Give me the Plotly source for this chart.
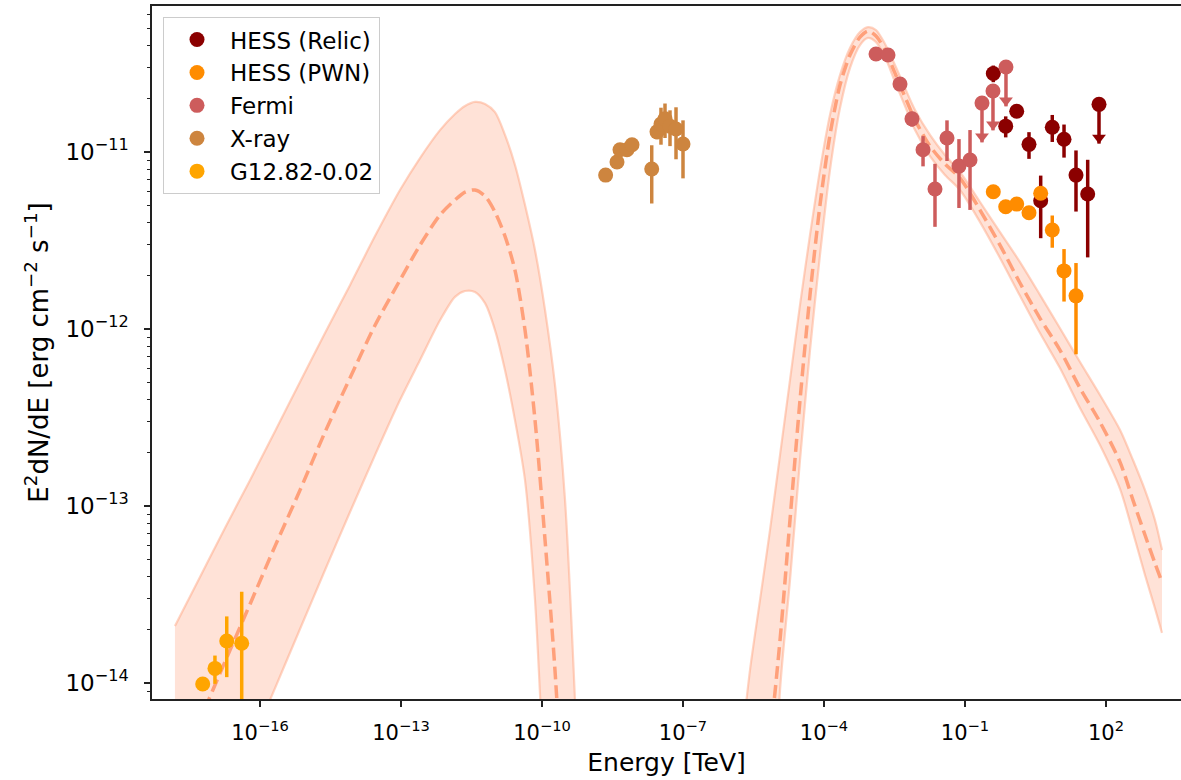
import plotly.graph_objects as go

# ---------------- data ----------------
# G12.82-0.02 (radio)
g12_E = [6.04e-18, 1.10e-17, 1.96e-17, 4.08e-17]
g12_F = [9.87e-15, 1.21e-14, 1.73e-14, 1.68e-14]
g12_err = [0.0, 0.22e-14, 0.65e-14, 1.6e-14]

# X-ray
xray_E = [2.26e-9, 3.94e-9, 4.57e-9, 6.43e-9, 8.22e-9, 2.16e-8, 2.80e-8,
          3.40e-8, 4.14e-8, 5.29e-8, 7.10e-8, 1.00e-7]
xray_F = [7.41e-12, 8.78e-12, 1.03e-11, 1.03e-11, 1.10e-11, 8.02e-12, 1.30e-11,
          1.44e-11, 1.54e-11, 1.40e-11, 1.35e-11, 1.11e-11]
xray_err = [0.3e-12, 0.3e-12, 0.3e-12, 0.3e-12, 0.3e-12, 2.9e-12, 1.2e-12,
            3.4e-12, 3.4e-12, 3.2e-12, 4.4e-12, 4.0e-12]

# Fermi
fermi_E = [1.28e-3, 2.30e-3, 4.14e-3, 7.45e-3, 1.28e-2, 2.30e-2, 4.14e-2,
           7.45e-2, 0.128, 0.230, 0.394, 0.745]
fermi_F = [3.58e-11, 3.53e-11, 2.42e-11, 1.54e-11, 1.03e-11, 6.18e-12, 1.20e-11,
           8.33e-12, 9.01e-12, 1.89e-11, 2.21e-11, 3.02e-11]
fermi_err = [0.0, 0.0, 0.0, 1.5e-12, 2.0e-12, 2.4e-12, 3.1e-12,
             3.5e-12, 4.3e-12, 0.0, 0.0, 0.0]
fermi_ul = [False, False, False, False, False, False, False,
            False, False, True, True, True]

# HESS (Relic)
relic_E = [0.400, 0.735, 1.26, 2.30, 4.08, 7.20, 12.8, 23.0, 40.8, 71.0]
relic_F = [2.78e-11, 1.40e-11, 1.70e-11, 1.105e-11, 5.31e-12, 1.38e-11,
           1.18e-11, 7.41e-12, 5.79e-12, 1.86e-11]
relic_err = [3.0e-12, 1.9e-12, 1.0e-12, 1.9e-12, 2.05e-12, 2.4e-12,
             2.5e-12, 2.8e-12, 3.25e-12, 0.0]
relic_ul = [False, False, False, False, False, False, False, False, False, True]

# HESS (PWN)
pwn_E = [0.400, 0.735, 1.26, 2.30, 4.08, 7.20, 12.8, 23.0]
pwn_F = [5.97e-12, 4.91e-12, 5.08e-12, 4.54e-12, 5.85e-12, 3.63e-12, 2.13e-12, 1.54e-12]
pwn_err = [0.3e-12, 0.3e-12, 0.3e-12, 0.3e-12, 0.3e-12, 0.75e-12, 0.7e-12, 0.82e-12]

# Model: synchrotron component
sync_E = [1.55e-18, 5.29e-18, 1.80e-17, 6.13e-17, 2.09e-16, 7.10e-16, 2.42e-15,
          8.22e-15, 2.80e-14, 9.52e-14, 2.54e-13, 6.76e-13, 1.41e-12, 2.30e-12,
          3.75e-12, 6.13e-12, 1.00e-11, 1.63e-11, 2.66e-11, 4.35e-11, 7.10e-11,
          1.16e-10, 1.89e-10, 3.09e-10, 5.04e-10]
sync_upper = [2.10e-14, 3.97e-14, 7.52e-14, 1.40e-13, 2.65e-13, 5.02e-13, 9.49e-13,
              1.77e-12, 3.35e-12, 6.10e-12, 9.25e-12, 1.33e-11, 1.64e-11, 1.82e-11,
              1.92e-11, 1.87e-11, 1.68e-11, 1.25e-11, 8.45e-12, 5.02e-12, 2.79e-12,
              1.28e-12, 4.83e-13, 1.08e-13, 8.0e-15]
sync_median = [2.87e-15, 6.18e-15, 1.32e-14, 2.79e-14, 5.94e-14, 1.23e-13, 2.62e-13,
               5.29e-13, 1.05e-12, 1.89e-12, 2.98e-12, 4.41e-12, 5.36e-12, 5.94e-12,
               6.10e-12, 5.64e-12, 4.58e-12, 3.35e-12, 2.15e-12, 9.87e-13, 3.06e-13,
               6.43e-14, 1.18e-14, 1.14e-15, 4.41e-17]
sync_lower = [4.41e-16, 9.38e-16, 2.02e-15, 4.35e-15, 9.37e-15, 2.02e-14, 4.35e-14,
              9.25e-14, 1.94e-13, 3.97e-13, 6.68e-13, 1.12e-12, 1.52e-12, 1.64e-12,
              1.62e-12, 1.40e-12, 9.87e-13, 5.87e-13, 3.06e-13, 1.40e-13, 2.94e-14,
              2.18e-15, 1.62e-16, 1.20e-17, 8.89e-19]

# Model: inverse-Compton component
ic_E = [1.63e-6, 2.66e-6, 4.35e-6, 7.10e-6, 1.16e-5, 1.89e-5, 3.09e-5, 5.04e-5,
        8.22e-5, 1.34e-4, 2.19e-4, 3.57e-4, 5.83e-4, 8.64e-4, 1.28e-3, 1.99e-3,
        3.24e-3, 5.29e-3, 8.64e-3, 1.80e-2, 3.75e-2, 7.83e-2, 0.209, 0.556, 1.48,
        3.94, 10.5, 28.0, 74.5, 199.0, 375.0, 676.0, 1100.0, 1554.0]
ic_upper = [3.67e-15, 1.18e-14, 2.94e-14, 7.32e-14, 1.94e-13, 5.15e-13, 1.37e-12,
            3.40e-12, 7.91e-12, 1.62e-11, 2.72e-11, 3.87e-11, 4.76e-11, 5.08e-11,
            4.89e-11, 4.08e-11, 3.10e-11, 2.30e-11, 1.73e-11, 1.25e-11, 9.62e-12,
            7.71e-12, 5.22e-12, 3.53e-12, 2.39e-12, 1.56e-12, 1.01e-12, 6.51e-13,
            4.24e-13, 2.69e-13, 1.82e-13, 1.23e-13, 8.34e-14, 5.64e-14]
ic_median = [1.62e-16, 5.94e-16, 1.68e-15, 4.76e-15, 1.75e-14, 8.34e-14, 3.97e-13,
             1.56e-12, 5.02e-12, 1.25e-11, 2.39e-11, 3.53e-11, 4.46e-11, 4.83e-11,
             4.52e-11, 3.77e-11, 2.79e-11, 2.05e-11, 1.52e-11, 1.08e-11, 8.56e-12,
             7.13e-12, 4.70e-12, 2.98e-12, 1.82e-12, 1.15e-12, 7.61e-13, 4.64e-13,
             2.98e-13, 1.77e-13, 1.08e-13, 6.86e-14, 4.76e-14, 3.72e-14]
ic_lower = [1.20e-17, 4.41e-17, 1.62e-16, 5.94e-16, 9.13e-15, 3.82e-14, 1.82e-13,
            7.61e-13, 2.62e-12, 7.91e-12, 1.77e-11, 2.98e-11, 4.02e-11, 4.41e-11,
            4.18e-11, 3.44e-11, 2.49e-11, 1.82e-11, 1.33e-11, 9.49e-12, 7.42e-12,
            6.10e-12, 4.02e-12, 2.52e-12, 1.54e-12, 9.49e-13, 6.02e-13, 3.58e-13,
            2.21e-13, 1.25e-13, 7.10e-14, 4.08e-14, 2.65e-14, 1.92e-14]

# Axis ticks
x_tick_exps = [-16, -13, -10, -7, -4, -1, 2]
y_tick_exps = [-14, -13, -12, -11]

# ---------------- styling ----------------
FONT = "DejaVu Sans"
MODEL_LINE = "#FFA07A"
BAND_FILL = "rgba(255,160,122,0.30)"
BAND_EDGE = "rgba(255,160,122,0.45)"
MS = 15
ERR_W = 3.5
UL_FRAC = 0.4          # upper-limit arrow length (fraction of value)
UL_HEAD_SHIFT = 1.08   # triangle centre slightly above the arrow tip

fig = go.Figure()


def add_band(E, lo, up, med):
    fig.add_trace(go.Scatter(x=E, y=lo, mode="lines", line=dict(color=BAND_EDGE, width=2.2, shape="spline", smoothing=0.8),
                             showlegend=False, hoverinfo="skip"))
    fig.add_trace(go.Scatter(x=E, y=up, mode="lines", fill="tonexty", fillcolor=BAND_FILL,
                             line=dict(color=BAND_EDGE, width=2.2, shape="spline", smoothing=0.8),
                             showlegend=False, hoverinfo="skip"))
    fig.add_trace(go.Scatter(x=E, y=med, mode="lines",
                             line=dict(color=MODEL_LINE, width=3.5, dash="13px,6px", shape="spline", smoothing=0.8),
                             showlegend=False, hoverinfo="skip"))


add_band(sync_E, sync_lower, sync_upper, sync_median)
add_band(ic_E, ic_lower, ic_upper, ic_median)


def add_points(name, E, F, err, color, ul=None):
    if ul is None:
        ul = [False] * len(E)
    plus = [0.0 if u else e for e, u in zip(err, ul)]
    minus = [f * UL_FRAC if u else e for f, e, u in zip(F, err, ul)]
    fig.add_trace(go.Scatter(
        x=E, y=F, mode="markers", name=name, legendgroup=name,
        marker=dict(color=color, size=MS, line=dict(width=0)),
        error_y=dict(type="data", symmetric=False, array=plus, arrayminus=minus,
                     color=color, thickness=ERR_W, width=0),
    ))
    uE = [e for e, u in zip(E, ul) if u]
    uF = [f * (1 - UL_FRAC) * UL_HEAD_SHIFT for f, u in zip(F, ul) if u]
    if uE:
        fig.add_trace(go.Scatter(x=uE, y=uF, mode="markers", showlegend=False, hoverinfo="skip",
                                 legendgroup=name,
                                 marker=dict(symbol="triangle-down", size=12, color=color, line=dict(width=0))))


add_points("HESS (Relic)", relic_E, relic_F, relic_err, "#8B0000", relic_ul)
add_points("HESS (PWN)", pwn_E, pwn_F, pwn_err, "#FF8C00")
add_points("Fermi", fermi_E, fermi_F, fermi_err, "#CD5C5C", fermi_ul)
add_points("X-ray", xray_E, xray_F, xray_err, "#CD853F")
add_points("G12.82-0.02", g12_E, g12_F, g12_err, "#FFA500")

y_minor = [m * 10.0 ** p for p in range(-15, -10) for m in range(2, 10)]


def sci(k):
    return f"10<sup>\u2212{-k}</sup>" if k < 0 else f"10<sup>{k}</sup>"


fig.update_layout(
    width=1181, height=780,
    margin=dict(l=152, r=0, t=6, b=81),
    paper_bgcolor="white", plot_bgcolor="white",
    font=dict(family=FONT, size=21, color="black"),
    xaxis=dict(
        type="log", range=[-18.298, 3.596],
        tickmode="array",
        tickvals=[10.0 ** k for k in x_tick_exps],
        ticktext=[sci(k) for k in x_tick_exps],
        ticks="outside", ticklen=6, tickwidth=1.5, tickcolor="#222",
        ticklabelstandoff=8,
        showline=True, linecolor="#222", linewidth=1.5, mirror=True,
        showgrid=False, zeroline=False,
        tickfont=dict(size=21),
        title=dict(text="Energy [TeV]", font=dict(size=25), standoff=10),
    ),
    yaxis=dict(
        type="log", range=[-14.09, -10.175],
        tickmode="array",
        tickvals=[10.0 ** k for k in y_tick_exps],
        ticktext=[sci(k) for k in y_tick_exps],
        ticks="outside", ticklen=6, tickwidth=1.5, tickcolor="#222",
        ticklabelstandoff=11,
        minor=dict(tickmode="array", tickvals=y_minor, ticks="outside", ticklen=3.5, tickwidth=1.2, tickcolor="#222"),
        showline=True, linecolor="#222", linewidth=1.5, mirror=False,
        showgrid=False, zeroline=False,
        tickfont=dict(size=23),
        title=dict(text="E<sup>2</sup>dN/dE [erg cm<sup>\u22122</sup> s<sup>\u22121</sup>]", font=dict(size=26), standoff=9),
    ),
    legend=dict(
        x=0.0107, y=0.984, xanchor="left", yanchor="top",
        bordercolor="#cccccc", borderwidth=1, bgcolor="rgba(255,255,255,0.85)",
        font=dict(size=23, family=FONT), itemsizing="trace", itemwidth=56,
        traceorder="normal", tracegroupgap=3,
    ),
)

fig.write_html("out.html")
